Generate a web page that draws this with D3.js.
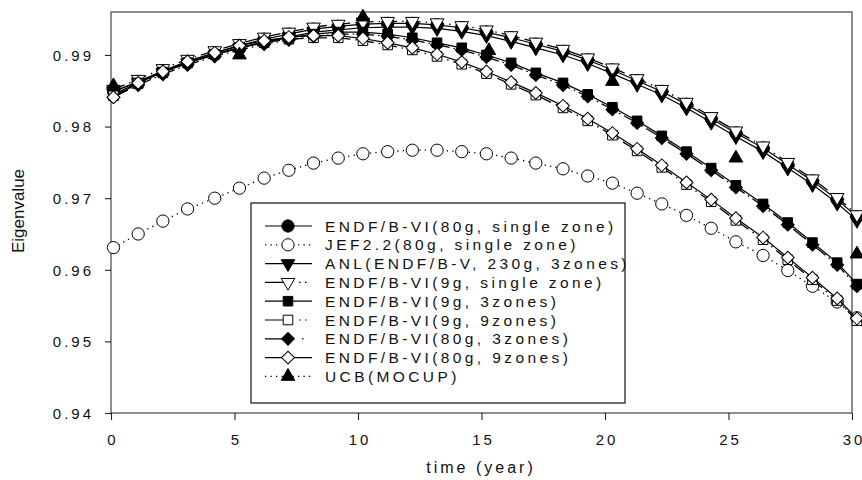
<!DOCTYPE html>
<html>
<head>
<meta charset="utf-8">
<script src="https://cdn.jsdelivr.net/npm/d3@7"></script>
<style>
    body { margin: 0; background: #fff; }
    svg { display: block; font-family: "Liberation Sans", Arial, sans-serif; }
</style>
</head>
<body>
<svg id="chart" width="862" height="480"></svg>
<script>
// burnup time of each calculated point (years)
const time = [0.1, 1.1, 2.1, 3.1, 4.2, 5.2, 6.2, 7.2, 8.2, 9.2, 10.2, 11.2, 12.2, 13.2, 14.2, 15.2,
    16.2, 17.2, 18.3, 19.3, 20.3, 21.3, 22.3, 23.3, 24.3, 25.3, 26.4, 27.4, 28.4, 29.4, 30.2]
const ucbTime = [0.1, 5.2, 10.2, 15.3, 20.3, 25.3, 30.2]

const endf80Single = [0.9849, 0.9863, 0.9878, 0.9891, 0.9903, 0.9913, 0.9922, 0.9929, 0.9936, 0.9940, 0.9943,
    0.9944, 0.9944, 0.9942, 0.9938, 0.9932, 0.9924, 0.9915, 0.9905, 0.9893, 0.9879, 0.9864, 0.9849, 0.9831,
    0.9811, 0.9791, 0.9770, 0.9747, 0.9724, 0.9698, 0.9674]
const jef80Single = [0.9631, 0.9650, 0.9668, 0.9685, 0.9700, 0.9714, 0.9728, 0.9739, 0.9749, 0.9756, 0.9762,
    0.9765, 0.9767, 0.9767, 0.9765, 0.9762, 0.9756, 0.9749, 0.9741, 0.9731, 0.9721, 0.9707, 0.9692, 0.9676,
    0.9658, 0.9639, 0.9620, 0.9599, 0.9577, 0.9555, 0.9533]
const anl230 = [0.9849, 0.9862, 0.9876, 0.9889, 0.9900, 0.9910, 0.9918, 0.9925, 0.9932, 0.9935, 0.9938,
    0.9939, 0.9939, 0.9937, 0.9933, 0.9927, 0.9919, 0.9910, 0.9900, 0.9888, 0.9874, 0.9859, 0.9844, 0.9826,
    0.9806, 0.9786, 0.9765, 0.9742, 0.9719, 0.9693, 0.9669]
const endf9Single = [0.9852, 0.9866, 0.9881, 0.9894, 0.9906, 0.9916, 0.9925, 0.9932, 0.9939, 0.9943, 0.9946,
    0.9947, 0.9947, 0.9945, 0.9941, 0.9935, 0.9927, 0.9918, 0.9908, 0.9896, 0.9882, 0.9867, 0.9852, 0.9834,
    0.9814, 0.9794, 0.9773, 0.9750, 0.9727, 0.9701, 0.9677]
const endf9Zone3 = [0.9845, 0.9861, 0.9876, 0.9889, 0.9901, 0.9910, 0.9918, 0.9924, 0.9929, 0.9932, 0.9932,
    0.9929, 0.9924, 0.9917, 0.9910, 0.9900, 0.9889, 0.9875, 0.9861, 0.9845, 0.9827, 0.9808, 0.9787, 0.9765,
    0.9742, 0.9718, 0.9692, 0.9666, 0.9638, 0.9610, 0.9580]
const endf9Zone9 = [0.9843, 0.9860, 0.9875, 0.9889, 0.9901, 0.9910, 0.9917, 0.9922, 0.9924, 0.9924, 0.9920,
    0.9914, 0.9907, 0.9898, 0.9887, 0.9874, 0.9859, 0.9844, 0.9826, 0.9808, 0.9788, 0.9766, 0.9743, 0.9719,
    0.9695, 0.9669, 0.9642, 0.9614, 0.9586, 0.9557, 0.9529]
const endf80Zone3 = [0.9841, 0.9858, 0.9873, 0.9886, 0.9898, 0.9907, 0.9915, 0.9921, 0.9926, 0.9929, 0.9929,
    0.9926, 0.9921, 0.9914, 0.9907, 0.9897, 0.9886, 0.9872, 0.9858, 0.9842, 0.9824, 0.9805, 0.9784, 0.9762,
    0.9739, 0.9715, 0.9689, 0.9663, 0.9635, 0.9607, 0.9577]
const endf80Zone9 = [0.9841, 0.9861, 0.9877, 0.9891, 0.9903, 0.9913, 0.9920, 0.9925, 0.9927, 0.9927, 0.9923,
    0.9917, 0.9910, 0.9901, 0.9890, 0.9877, 0.9862, 0.9847, 0.9829, 0.9811, 0.9791, 0.9769, 0.9746, 0.9722,
    0.9698, 0.9672, 0.9645, 0.9617, 0.9589, 0.9560, 0.9532]
const ucbMocup = [0.9857, 0.9900, 0.9953, 0.9906, 0.9863, 0.9756, 0.9622]

const xTicks = [0, 5, 10, 15, 20, 25, 30]
const yTicks = [0.94, 0.95, 0.96, 0.97, 0.98, 0.99]

const SERIES = [
    { name: 'ENDF/B-VI(80g, single zone)', t: time, v: endf80Single, sym: 'circle', fill: '#000', dash: null, legDash: null },
    { name: 'JEF2.2(80g, single zone)', t: time, v: jef80Single, sym: 'circle', fill: '#fff', dash: '1.3,4.2', legDash: '1.3,4.2' },
    { name: 'ANL(ENDF/B-V, 230g, 3zones)', t: time, v: anl230, sym: 'down', fill: '#000', dash: null, legDash: null },
    { name: 'ENDF/B-VI(9g, single zone)', t: time, v: endf9Single, sym: 'down', fill: '#fff', dash: '12,5,1.5,5', legDash: '18,16,1.5,4.5,1.5,20' },
    { name: 'ENDF/B-VI(9g, 3zones)', t: time, v: endf9Zone3, sym: 'square', fill: '#000', dash: null, legDash: null },
    { name: 'ENDF/B-VI(9g, 9zones)', t: time, v: endf9Zone9, sym: 'square', fill: '#fff', dash: '12,5,1.5,5', legDash: '18,16,1.5,4.5,1.5,20' },
    { name: 'ENDF/B-VI(80g, 3zones)', t: time, v: endf80Zone3, sym: 'diamond', fill: '#000', dash: '16,4,1.5,4', legDash: '20,17,1.5,20' },
    { name: 'ENDF/B-VI(80g, 9zones)', t: time, v: endf80Zone9, sym: 'diamond', fill: '#fff', dash: null, legDash: null },
    { name: 'UCB(MOCUP)', t: ucbTime, v: ucbMocup, sym: 'up', fill: '#000', dash: 'none', legDash: '1.3,4.2' }
]

const svg = d3.select('#chart')
const MARGIN = { left: 111, right: 852, top: 12, bottom: 413 }

const x = d3.scaleLinear().domain([0, 30]).range([MARGIN.left, MARGIN.right])
const y = d3.scaleLinear().domain([0.94, 0.996]).range([MARGIN.bottom, MARGIN.top])

const symbolPath = (sym) => {
    if (sym === 'circle') return d3.symbol(d3.symbolCircle, 118)()
    if (sym === 'square') return d3.symbol(d3.symbolSquare, 92)()
    if (sym === 'diamond') return d3.symbol(d3.symbolSquare, 82)()
    return d3.symbol(d3.symbolTriangle, 80)()
}
const symbolRotate = (sym) => {
    if (sym === 'down') return 180
    if (sym === 'diamond') return 45
    return 0
}

// frame
svg.append('rect')
    .attr('x', MARGIN.left).attr('y', MARGIN.top)
    .attr('width', MARGIN.right - MARGIN.left).attr('height', MARGIN.bottom - MARGIN.top)
    .attr('fill', 'none').attr('stroke', '#444').attr('stroke-width', 1.2)

// axes
let xAxis = svg.append('g')
    .attr('transform', 'translate(0,' + MARGIN.bottom + ')')
    .call(d3.axisBottom(x).tickValues(xTicks).tickSize(7).tickSizeOuter(0).tickPadding(14).tickFormat(d3.format('d')))
let yAxis = svg.append('g')
    .attr('transform', 'translate(' + MARGIN.left + ',0)')
    .call(d3.axisLeft(y).tickValues(yTicks).tickSize(6).tickSizeOuter(0).tickPadding(11).tickFormat(d3.format('.2f')))

svg.selectAll('.domain').remove()
svg.selectAll('.tick line').attr('stroke', '#222').attr('stroke-width', 1.1)
svg.selectAll('.tick text')
    .attr('fill', '#111')
    .style('font-size', '15px')
    .style('letter-spacing', '3px')
    .style('font-family', '"Liberation Sans", Arial, sans-serif')
xAxis.selectAll('.tick text').attr('dx', '1.5px')
yAxis.selectAll('.tick text').attr('dy', '0.36em')

svg.append('text')
    .attr('x', 481).attr('y', 473)
    .attr('text-anchor', 'middle')
    .style('font-size', '16px')
    .style('letter-spacing', '3px')
    .attr('fill', '#111')
    .text('time (year)')

svg.append('text')
    .attr('transform', 'translate(24,211) rotate(-90)')
    .attr('text-anchor', 'middle')
    .style('font-size', '17px')
    .attr('fill', '#111')
    .text('Eigenvalue')

// curves
const line = d3.line().x(d => x(d[0])).y(d => y(d[1]))

SERIES.forEach((s) => {
    let pts = s.t.map((t, i) => [t, s.v[i]])
    let g = svg.append('g').attr('class', 'series')
    if (s.dash !== 'none') {
        g.append('path')
            .attr('d', line(pts))
            .attr('fill', 'none')
            .attr('stroke', '#000')
            .attr('stroke-width', s.dash ? 1.3 : 1.2)
            .attr('stroke-dasharray', s.dash)
    }
    g.selectAll('path.mark')
        .data(pts)
        .enter().append('path')
        .attr('class', 'mark')
        .attr('d', symbolPath(s.sym))
        .attr('transform', d => 'translate(' + x(d[0]) + ',' + y(d[1]) + ') rotate(' + symbolRotate(s.sym) + ')')
        .attr('fill', s.fill)
        .attr('stroke', '#000')
        .attr('stroke-width', 1)
})

// legend
const LEGEND_X = 251
const LEGEND_Y = 203
const LEGEND_W = 374
const LEGEND_H = 200
const ROW_0 = 226
const ROW_H = 18.8

let legend = svg.append('g').attr('class', 'legend')
legend.append('rect')
    .attr('x', LEGEND_X).attr('y', LEGEND_Y)
    .attr('width', LEGEND_W).attr('height', LEGEND_H)
    .attr('fill', '#fff').attr('stroke', '#111').attr('stroke-width', 1.2)

let item = legend.selectAll('g.item')
    .data(SERIES)
    .enter().append('g')
    .attr('class', 'item')
    .attr('transform', (d, i) => 'translate(0,' + (ROW_0 + i * ROW_H) + ')')

item.append('line')
    .attr('x1', 265).attr('x2', 312)
    .attr('stroke', '#000')
    .attr('stroke-width', 1.2)
    .attr('stroke-dasharray', d => d.legDash)

item.append('path')
    .attr('d', d => symbolPath(d.sym))
    .attr('transform', d => 'translate(288,0) rotate(' + symbolRotate(d.sym) + ')')
    .attr('fill', d => d.fill)
    .attr('stroke', '#000')
    .attr('stroke-width', 1)

item.append('text')
    .attr('x', 325).attr('dy', '0.36em')
    .style('font-size', '15.5px')
    .style('letter-spacing', '3.4px')
    .attr('fill', '#111')
    .text(d => d.name)
</script>
</body>
</html>
